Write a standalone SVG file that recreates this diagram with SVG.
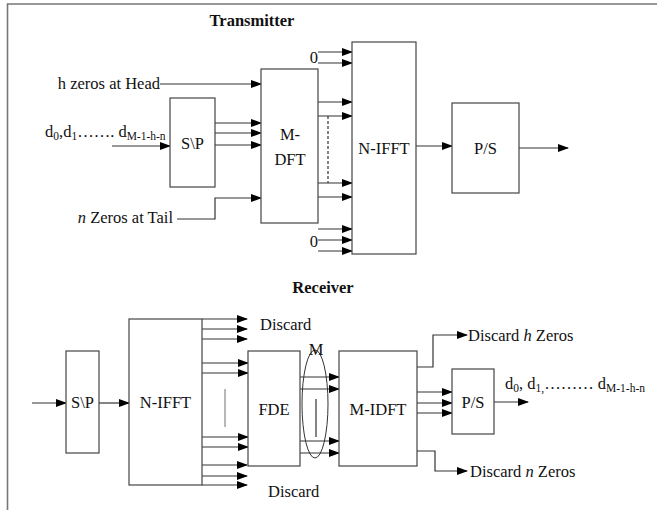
<svg xmlns="http://www.w3.org/2000/svg" width="657" height="510" viewBox="0 0 657 510">
<defs>
<marker id="ah" markerUnits="userSpaceOnUse" markerWidth="11" markerHeight="8" refX="10" refY="4" orient="auto">
<path d="M0,0 L11,4 L0,8 z" fill="#000"/>
</marker>
<style>
.box{fill:#fff;stroke:#444;stroke-width:1.2}
.ln{fill:none;stroke:#333;stroke-width:1.2}
.ar{fill:none;stroke:#333;stroke-width:1.2;marker-end:url(#ah)}
text{font-family:"Liberation Serif","Times New Roman",serif;font-size:16.5px;fill:#111}
.t{font-weight:bold}
.c{text-anchor:middle}
.s{font-size:11.5px}
</style>
</defs>
<rect width="657" height="510" fill="#fff"/>
<path d="M7.5,510 V4 H657" fill="none" stroke="#777" stroke-width="1.6"/>

<text class="t c" x="252" y="26">Transmitter</text>
<text class="t c" x="323" y="293">Receiver</text>

<g id="connectors">
<line class="ar" x1="160" y1="84" x2="261" y2="84"/>
<line class="ar" x1="112" y1="146" x2="170" y2="146"/>
<line class="ar" x1="215" y1="123" x2="261" y2="123"/>
<line class="ar" x1="215" y1="133" x2="261" y2="133"/>
<line class="ar" x1="215" y1="145" x2="261" y2="145"/>
<polyline class="ar" points="177,219 215,219 215,198 261,198"/>
<line class="ar" x1="318" y1="52" x2="352" y2="52"/>
<line class="ar" x1="318" y1="63" x2="352" y2="63"/>
<line class="ar" x1="318" y1="102" x2="352" y2="102"/>
<line class="ar" x1="318" y1="116" x2="352" y2="116"/>
<line class="ar" x1="318" y1="183" x2="352" y2="183"/>
<line class="ar" x1="318" y1="197" x2="352" y2="197"/>
<line class="ln" x1="328" y1="116" x2="328" y2="183" stroke-dasharray="3,2" stroke-width="1"/>
<line class="ar" x1="318" y1="229" x2="352" y2="229"/>
<line class="ar" x1="318" y1="240" x2="352" y2="240"/>
<line class="ar" x1="318" y1="251" x2="352" y2="251"/>
<line class="ar" x1="416" y1="146" x2="452" y2="146"/>
<line class="ar" x1="519" y1="148" x2="568" y2="148"/>
<line class="ar" x1="32" y1="403" x2="66" y2="403"/>
<line class="ar" x1="99" y1="403" x2="129" y2="403"/>
<line class="ar" x1="202" y1="319" x2="247" y2="319"/>
<line class="ar" x1="202" y1="329" x2="247" y2="329"/>
<line class="ar" x1="202" y1="339" x2="247" y2="339"/>
<line class="ar" x1="202" y1="363" x2="248" y2="363"/>
<line class="ar" x1="202" y1="373" x2="248" y2="373"/>
<line class="ar" x1="202" y1="437" x2="248" y2="437"/>
<line class="ar" x1="202" y1="447" x2="248" y2="447"/>
<line class="ar" x1="202" y1="465" x2="247" y2="465"/>
<line class="ar" x1="202" y1="476" x2="247" y2="476"/>
<line class="ar" x1="202" y1="485" x2="247" y2="485"/>
<line x1="225" y1="389" x2="225" y2="427" stroke="#888" stroke-width="1.2"/>
<line class="ar" x1="300" y1="377" x2="339" y2="377"/>
<line class="ar" x1="300" y1="389" x2="339" y2="389"/>
<line class="ar" x1="300" y1="441" x2="339" y2="441"/>
<line class="ar" x1="300" y1="453" x2="339" y2="453"/>
<ellipse cx="315" cy="404" rx="13" ry="54" fill="none" stroke="#333" stroke-width="1"/>
<line class="ln" x1="316" y1="399" x2="316" y2="437" stroke-width="1"/>
<polyline class="ar" points="417,367 433,367 433,335 467,335"/>
<polyline class="ar" points="417,451 435,451 435,471 467,471"/>
<line class="ar" x1="417" y1="392" x2="452" y2="392"/>
<line class="ar" x1="417" y1="403" x2="452" y2="403"/>
<line class="ar" x1="417" y1="413" x2="452" y2="413"/>
<line class="ar" x1="494" y1="402" x2="528" y2="402"/>
</g>

<g id="labels">
<text x="160" y="89" text-anchor="end">h zeros at Head</text>
<text x="45" y="137">d<tspan class="s" dy="3">0</tspan><tspan dy="-3">,d</tspan><tspan class="s" dy="3">1</tspan><tspan dy="-3">……. d</tspan><tspan class="s" dy="3">M-1-h-n</tspan></text>
<text x="173" y="223" text-anchor="end"><tspan font-style="italic">n</tspan> Zeros at Tail</text>
<text x="318" y="63" text-anchor="end">0</text>
<text x="318" y="247" text-anchor="end">0</text>
<text x="260" y="330">Discard</text>
<text x="268" y="497">Discard</text>
<text class="c" x="316" y="355">M</text>
<text x="468" y="341">Discard <tspan font-style="italic">h</tspan> Zeros</text>
<text x="470" y="477">Discard <tspan font-style="italic">n</tspan> Zeros</text>
<text x="505" y="389">d<tspan class="s" dy="3">0</tspan><tspan dy="-3">, d</tspan><tspan class="s" dy="3">1,</tspan><tspan dy="-3">……… d</tspan><tspan class="s" dy="3">M-1-h-n</tspan></text>
</g>

<g id="tx-sp"><rect class="box" x="170" y="98" width="45" height="89"/><text class="c" x="192.5" y="149">S\P</text></g>
<g id="tx-mdft"><rect class="box" x="261" y="69" width="57" height="154"/><text class="c" x="290" y="140">M-</text><text class="c" x="290" y="165">DFT</text></g>
<g id="tx-nifft"><rect class="box" x="352" y="42" width="64" height="212"/><text class="c" x="384" y="154">N-IFFT</text></g>
<g id="tx-ps"><rect class="box" x="452" y="103" width="67" height="90"/><text class="c" x="485.5" y="154">P/S</text></g>

<g id="rx-sp"><rect class="box" x="66" y="351" width="33" height="102"/><text class="c" x="82.5" y="408">S\P</text></g>
<g id="rx-nifft"><rect class="box" x="129" y="319" width="73" height="166"/><text class="c" x="165.5" y="408">N-IFFT</text></g>
<g id="rx-fde"><rect class="box" x="248" y="351" width="52" height="115"/><text class="c" x="274" y="415">FDE</text></g>
<g id="rx-midft"><rect class="box" x="339" y="351" width="78" height="115"/><text class="c" x="378" y="415">M-IDFT</text></g>
<g id="rx-ps"><rect class="box" x="452" y="369" width="42" height="65"/><text class="c" x="473" y="408">P/S</text></g>
</svg>
